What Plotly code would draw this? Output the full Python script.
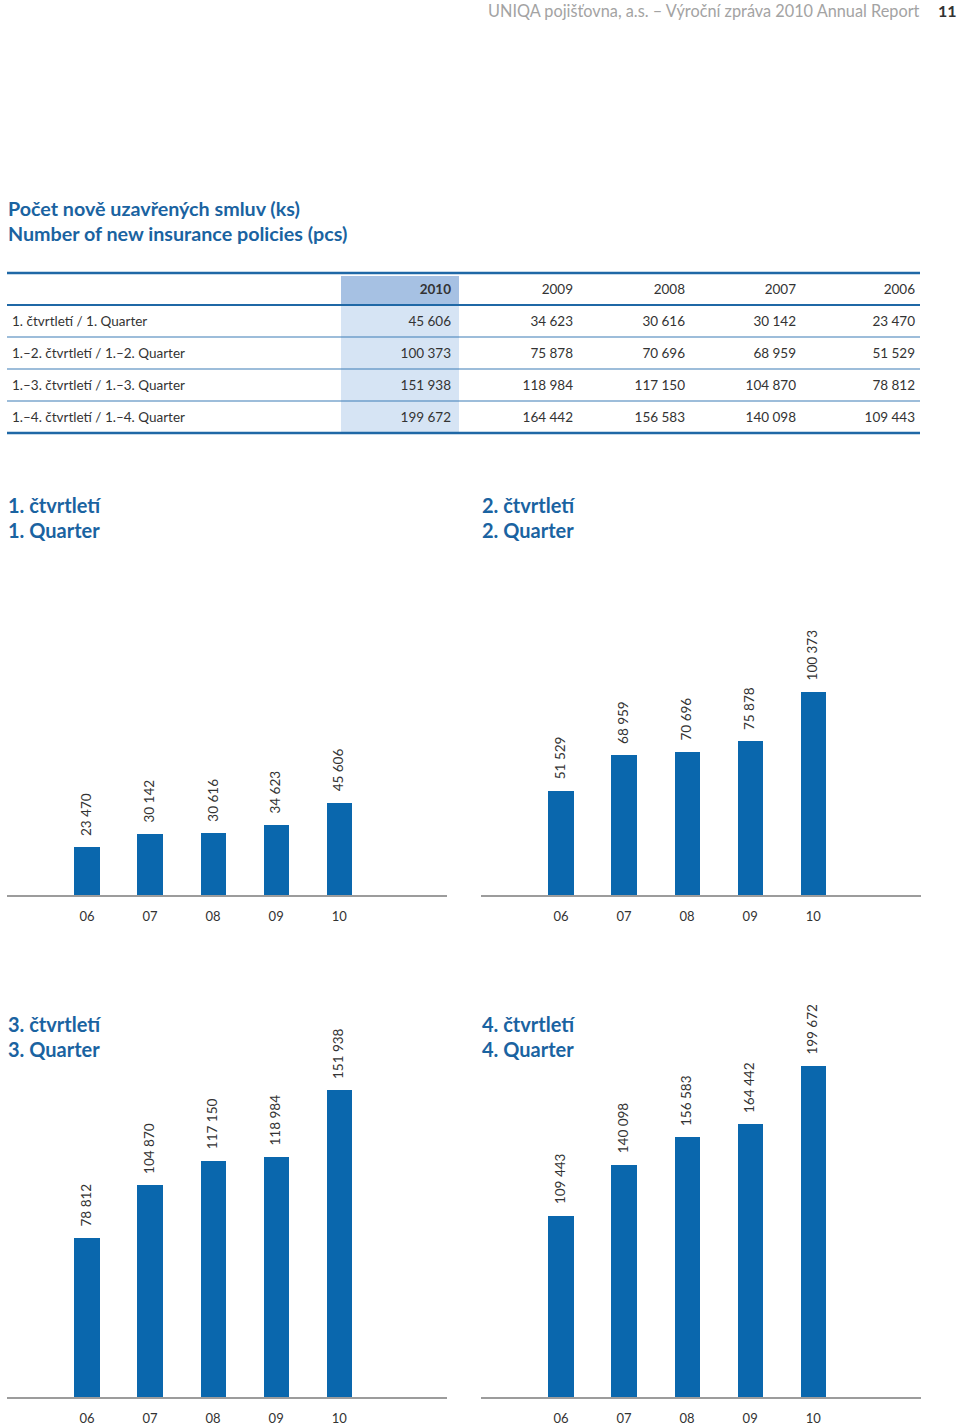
import plotly.graph_objects as go

# ---------------- data ----------------
table_years = ["2010", "2009", "2008", "2007", "2006"]
row_labels = [
    "1. čtvrtletí / 1. Quarter",
    "1.–2. čtvrtletí / 1.–2. Quarter",
    "1.–3. čtvrtletí / 1.–3. Quarter",
    "1.–4. čtvrtletí / 1.–4. Quarter",
]
v2010 = [45606, 100373, 151938, 199672]
v2009 = [34623, 75878, 118984, 164442]
v2008 = [30616, 70696, 117150, 156583]
v2007 = [30142, 68959, 104870, 140098]
v2006 = [23470, 51529, 78812, 109443]

bar_years = ["06", "07", "08", "09", "10"]
panel_titles = [
    ("1. čtvrtletí", "1. Quarter"),
    ("2. čtvrtletí", "2. Quarter"),
    ("3. čtvrtletí", "3. Quarter"),
    ("4. čtvrtletí", "4. Quarter"),
]
header_text = "UNIQA pojišťovna, a.s. – Výroční zpráva 2010 Annual Report"
page_no = "11"
title_cz = "Počet nově uzavřených smluv (ks)"
title_en = "Number of new insurance policies (pcs)"

# ---------------- style ----------------
W, H = 960, 1427
FONT = "Lato"
BLUE = "#0a67ad"
TITLE_BLUE = "#1a63a1"
TXT = "#333333"
HEAD_FILL = "#a6c1e3"
CELL_FILL = "#d6e4f4"


def px(x):
    return x / W


def py(y):
    return 1 - y / H


def fmt(v):
    return f"{v:,}".replace(",", " ")


fig = go.Figure()

# ---------------- table ----------------
cols = [v2010, v2009, v2008, v2007, v2006]
col_bounds = [4, 341, 459, 581, 693, 804, 923]
widths = [col_bounds[i + 1] - col_bounds[i] for i in range(6)]
fig.add_trace(go.Table(
    domain=dict(x=[px(col_bounds[0]), px(col_bounds[-1])], y=[py(440), py(276)]),
    columnwidth=widths,
    header=dict(
        values=[""] + table_years,
        align=["left"] + ["right"] * 5,
        fill_color=["white", HEAD_FILL] + ["white"] * 4,
        line=dict(width=0, color="white"),
        font=dict(family=FONT, size=13.5, color=TXT,
                  weight=["normal", "bold", "normal", "normal", "normal", "normal"]),
        height=32,
    ),
    cells=dict(
        values=[row_labels] + [[fmt(v) for v in c] for c in cols],
        align=["left"] + ["right"] * 5,
        fill_color=["white", CELL_FILL] + ["white"] * 4,
        line=dict(width=0, color="white"),
        font=dict(family=FONT, size=13.5, color=TXT),
        height=32,
    ),
))

shapes = [
    dict(type="rect", xref="paper", yref="paper", layer="above",
         x0=px(col_bounds[1]), x1=px(col_bounds[2]), y0=py(308.5), y1=py(305),
         fillcolor=CELL_FILL, line=dict(width=0)),
    dict(type="rect", xref="paper", yref="paper", layer="above",
         x0=px(col_bounds[1]), x1=px(col_bounds[2]), y0=py(441), y1=py(433),
         fillcolor="white", line=dict(width=0)),
]
line_ys = [(273, 2.5, "#1f68a6"), (305, 2, "#1f68a6"), (337, 1.2, "#3d7db5"),
           (369, 1.2, "#3d7db5"), (401, 1.2, "#3d7db5"), (433, 2.5, "#1f68a6")]
for y, w, c in line_ys:
    shapes.append(dict(type="line", xref="paper", yref="paper",
                       x0=px(7), x1=px(920), y0=py(y), y1=py(y),
                       line=dict(color=c, width=w)))

# ---------------- bar panels ----------------
panel_vals = [[c[i] for c in reversed(cols)] for i in range(4)]
# pixel geometry: (x0, x1, baseline, top, yrange_max)
geom = [
    (7, 447, 895, 571, 160000),
    (481, 921, 895, 571, 160000),
    (7, 447, 1397, 1074, 160000),
    (481, 921, 1397, 999, 240000),
]
annotations = []
for i, (vals, (x0, x1, yb, yt, ymax)) in enumerate(zip(panel_vals, geom)):
    n = "" if i == 0 else str(i + 1)
    fig.add_trace(go.Bar(
        x=bar_years, y=vals, width=0.4, marker=dict(color=BLUE, line=dict(width=0)),
        xaxis="x" + n, yaxis="y" + n, showlegend=False, hoverinfo="x+y",
    ))
    fig.layout["xaxis" + n] = dict(
        domain=[px(x0), px(x1)], anchor="y" + n, type="category",
        range=[-1.27, 5.71], showgrid=False, zeroline=False,
        showline=True, linecolor="#9c9c9c", linewidth=2,
        ticks="", ticklabelstandoff=8,
        tickfont=dict(family=FONT, size=13, color=TXT), fixedrange=True,
    )
    fig.layout["yaxis" + n] = dict(
        domain=[py(yb), py(yt)], anchor="x" + n, range=[0, ymax],
        visible=False, showgrid=False, zeroline=False, fixedrange=True,
    )
    for j, yv in enumerate(vals):
        annotations.append(dict(
            x=j, y=yv, xref="x" + n, yref="y" + n, text=fmt(yv),
            showarrow=False, textangle=-90, yanchor="bottom", xanchor="center",
            yshift=9, xshift=-1, font=dict(family=FONT, size=13.5, color=TXT),
        ))
    # panel titles
    ty = 505 if i < 2 else 1024
    for k, t in enumerate(panel_titles[i]):
        annotations.append(dict(
            x=px(x0 - 1), y=py(ty + 25 * k), xref="paper", yref="paper",
            text=f"<b>{t}</b>", showarrow=False, xanchor="left", yanchor="middle",
            font=dict(family=FONT, size=20, color=TITLE_BLUE),
        ))

# ---------------- header & title ----------------
annotations.append(dict(
    x=px(922), y=py(10), xref="paper", yref="paper", text=header_text,
    showarrow=False, xanchor="right", yanchor="middle",
    font=dict(family=FONT, size=16.3, color="#a3a3a3"),
))
annotations.append(dict(
    x=px(959), y=py(10), xref="paper", yref="paper", text=f"<b>{page_no}</b>",
    showarrow=False, xanchor="right", yanchor="middle",
    font=dict(family=FONT, size=16, color="#333333"),
))
for k, t in enumerate([title_cz, title_en]):
    annotations.append(dict(
        x=px(6), y=py(208 + 25 * k), xref="paper", yref="paper",
        text=f"<b>{t}</b>", showarrow=False, xanchor="left", yanchor="middle",
        font=dict(family=FONT, size=19.7, color=TITLE_BLUE),
    ))

fig.update_layout(
    width=W, height=H, margin=dict(l=0, r=0, t=0, b=0),
    paper_bgcolor="white", plot_bgcolor="white",
    annotations=annotations, shapes=shapes, bargap=0,
    font=dict(family=FONT, color=TXT),
)

fig.write_html("out.html", config={"displayModeBar": False},
               post_script="document.body.style.margin='0px';document.body.style.overflow='hidden';")
